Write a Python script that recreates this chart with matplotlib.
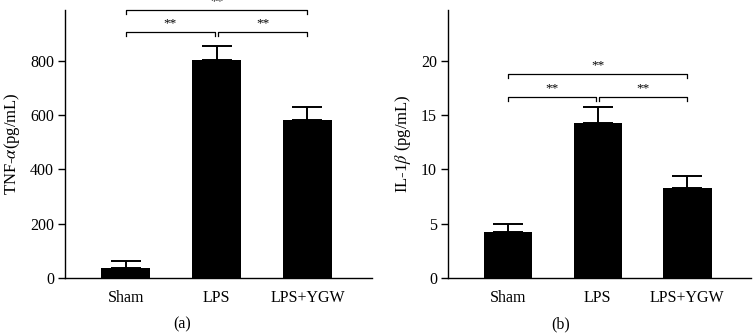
import matplotlib

matplotlib.use("Agg")
from matplotlib import pyplot as plt

plt.rcParams["font.family"] = ["Liberation Serif", "DejaVu Serif"]
plt.rcParams["mathtext.fontset"] = "stix"

groups = ["Sham", "LPS", "LPS+YGW"]

tnf_mean = [38, 803, 582]
tnf_err = [26, 53, 50]
tnf_ticks = [0, 200, 400, 600, 800]

il1b_mean = [4.27, 14.26, 8.32]
il1b_err = [0.73, 1.47, 1.11]
il1b_ticks = [0, 5, 10, 15, 20]

# significance brackets: (left group, right group, height)
tnf_brackets = [(0, 1, 907), (1, 2, 907), (0, 2, 988)]
il1b_brackets = [(0, 1, 16.7), (1, 2, 16.7), (0, 2, 18.8)]


def draw_panel(ax, means, errs, ticks, ymax, brackets, ylabel):
    xs = list(range(len(groups)))
    ax.bar(xs, means, width=0.54, color="black", zorder=2)
    ax.errorbar(xs, means, yerr=[[0] * len(errs), errs], fmt="none",
                ecolor="black", elinewidth=1.4, capsize=10.5, capthick=1.4, zorder=3)
    ax.set_xlim(-0.67, 2.71)
    ax.set_ylim(0, ymax)
    ax.set_yticks(ticks)
    ax.set_xticks(xs)
    ax.set_xticklabels(groups)
    ax.tick_params(axis="x", length=0, pad=9, labelsize=11.5)
    ax.tick_params(axis="y", length=5, width=1, labelsize=11.5, pad=3)
    for side in ("top", "right"):
        ax.spines[side].set_visible(False)
    for side in ("left", "bottom"):
        ax.spines[side].set_linewidth(1)
    ax.set_ylabel(ylabel, fontsize=12, labelpad=6)

    drop = ymax * 0.016
    gap = 0.018
    for a, b, h in brackets:
        x0, x1 = a, b
        if b - a == 1:
            if a == 1:
                x0 = a + gap
            if b == 1:
                x1 = b - gap
        ax.plot([x0, x0, x1, x1], [h - drop, h, h, h - drop], color="black",
                lw=0.9, clip_on=False)
        ax.text((x0 + x1) / 2, h + ymax * 0.01, "**", ha="center", va="bottom",
                fontsize=9.5, clip_on=False)


fig = plt.figure(figsize=(7.56, 3.34), dpi=100, facecolor="white")
ax_a = fig.add_axes([0.086, 0.168, 0.406, 0.802])
ax_b = fig.add_axes([0.5926, 0.168, 0.4008, 0.802])

draw_panel(ax_a, tnf_mean, tnf_err, tnf_ticks, 988, tnf_brackets,
           r"TNF-$\alpha$(pg/mL)")
draw_panel(ax_b, il1b_mean, il1b_err, il1b_ticks, 24.7, il1b_brackets,
           r"IL-1$\beta$ (pg/mL)")

fig.text(182 / 756, 0.03, "(a)", ha="center", va="center", fontsize=11.5)
fig.text(561 / 756, 0.03, "(b)", ha="center", va="center", fontsize=11.5)

fig.savefig("out.png", dpi=100)
